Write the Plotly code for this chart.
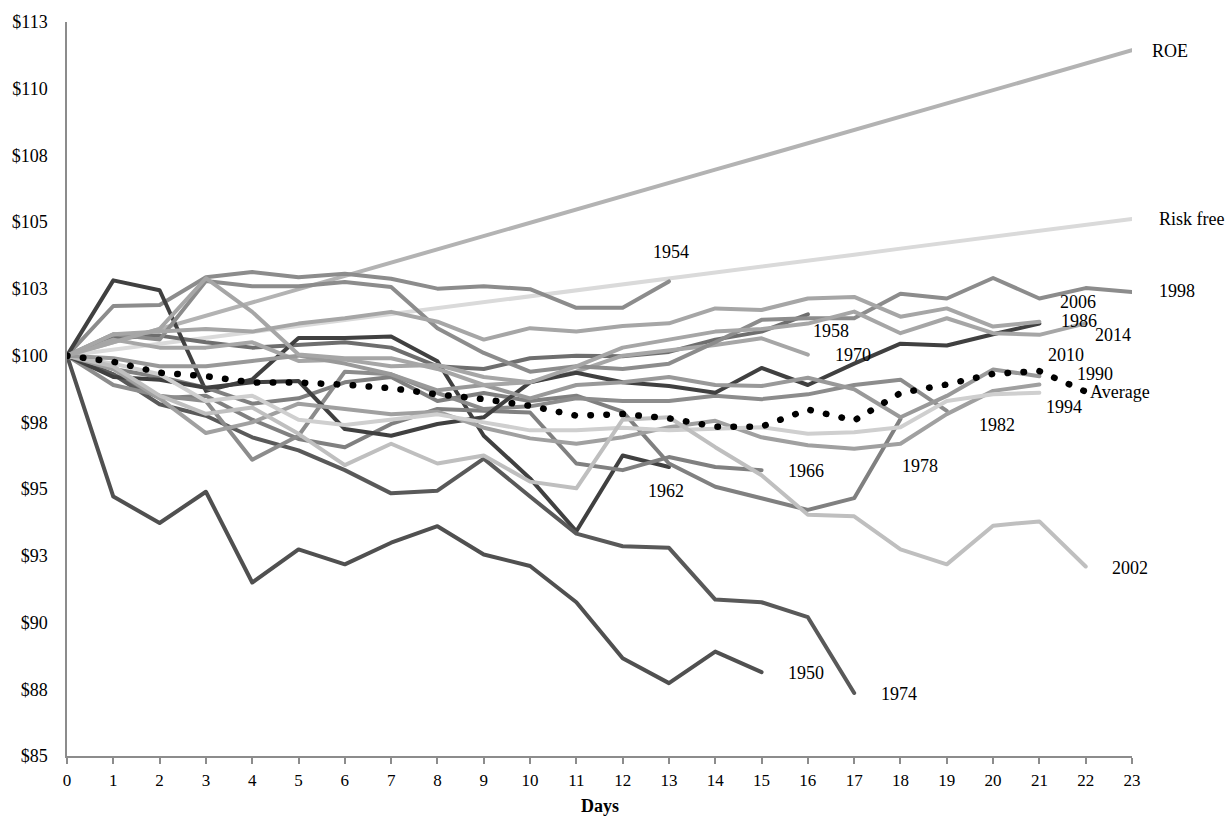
import plotly.graph_objects as go

days = list(range(24))

y1950 = [100, 94.72, 93.73, 94.9, 91.5, 92.74, 92.18, 92.99, 93.61, 92.55, 92.12, 90.76, 88.66, 87.73, 88.91, 88.14]
y1954 = [100, 101.86, 101.9, 102.94, 103.13, 102.94, 103.07, 102.88, 102.51, 102.6, 102.49, 101.79, 101.79, 102.78]
y1958 = [100, 100.65, 100.75, 100.5, 100.3, 100.4, 100.5, 100.3, 99.6, 99.5, 99.9, 100.0, 99.98, 100.14, 100.6, 100.9, 101.55]
y1962 = [100, 102.82, 102.45, 98.68, 99.11, 100.66, 100.66, 100.72, 99.79, 97.0, 95.4, 93.42, 96.26, 95.83]
y1966 = [100, 99.3, 98.4, 98.5, 97.6, 96.88, 96.57, 97.44, 98.0, 97.93, 97.87, 95.96, 95.71, 96.2, 95.83, 95.71]
y1970 = [100, 100.6, 100.3, 100.3, 100.5, 99.8, 99.85, 99.6, 99.65, 99.2, 99.0, 99.4, 100.0, 100.2, 100.4, 100.65, 100.04]
y1974 = [100, 99.3, 98.18, 97.75, 96.94, 96.45, 95.71, 94.84, 94.94, 96.14, 94.72, 93.33, 92.86, 92.8, 90.86, 90.76, 90.2, 87.36]
y1978 = [100, 99.5, 99.2, 98.8, 98.2, 98.4, 99.0, 99.2, 98.3, 98.6, 98.3, 98.5, 97.9, 95.96, 95.09, 94.66, 94.22, 94.66, 97.63]
y1982 = [100, 98.9, 98.5, 98.3, 96.1, 97.0, 99.4, 99.3, 98.6, 98.0, 98.1, 98.4, 98.3, 98.3, 98.5, 98.37, 98.55, 98.9, 99.1, 97.93]
y1986 = [100, 99.2, 99.1, 98.8, 99.0, 99.05, 97.25, 97.0, 97.44, 97.69, 99.0, 99.36, 99.0, 98.86, 98.61, 99.54, 98.9, 99.7, 100.45, 100.38, 100.8, 101.2]
y1990 = [100, 99.5, 98.4, 97.1, 97.5, 98.2, 98.0, 97.8, 97.9, 97.3, 96.9, 96.7, 96.94, 97.32, 97.56, 96.94, 96.64, 96.51, 96.7, 97.81, 98.68, 98.92]
y1994 = [100, 99.7, 99.3, 98.3, 98.5, 97.6, 97.4, 97.6, 97.8, 97.5, 97.2, 97.2, 97.3, 97.2, 97.25, 97.32, 97.07, 97.13, 97.32, 98.3, 98.55, 98.61]
y1998 = [100, 100.8, 100.6, 102.8, 102.6, 102.6, 102.76, 102.57, 101.03, 100.1, 99.4, 99.6, 99.5, 99.7, 100.5, 101.34, 101.4, 101.4, 102.32, 102.14, 102.91, 102.14, 102.53, 102.38]
y2002 = [100, 99.6, 98.5, 97.82, 98.06, 97.07, 95.9, 96.7, 95.96, 96.26, 95.28, 95.03, 97.6, 97.69, 96.57, 95.52, 94.04, 93.98, 92.74, 92.18, 93.63, 93.79, 92.1]
y2006 = [100, 100.8, 100.9, 101.0, 100.9, 101.2, 101.4, 101.64, 101.27, 100.6, 101.03, 100.9, 101.11, 101.21, 101.77, 101.71, 102.14, 102.2, 101.46, 101.77, 101.09, 101.27]
y2010 = [100, 99.9, 99.6, 99.6, 99.8, 100.0, 99.7, 99.3, 98.7, 98.9, 98.4, 98.9, 99.0, 99.2, 98.9, 98.86, 99.17, 98.74, 97.69, 98.49, 99.48, 99.23]
y2014 = [100, 100.5, 101.0, 102.9, 101.64, 100.04, 99.9, 99.9, 99.5, 98.9, 99.0, 99.6, 100.3, 100.6, 100.9, 101.0, 101.2, 101.65, 100.84, 101.4, 100.84, 100.78, 101.21]
roe = [100, 100.5, 100.99, 101.49, 101.99, 102.49, 102.99, 103.48, 103.98, 104.48, 104.98, 105.47,
       105.97, 106.47, 106.97, 107.46, 107.96, 108.46, 108.96, 109.45, 109.95, 110.45, 110.95, 111.44]
risk_free = [100, 100.22, 100.45, 100.67, 100.89, 101.11, 101.34, 101.56, 101.78, 102.0, 102.23, 102.45,
             102.67, 102.89, 103.12, 103.34, 103.56, 103.78, 104.01, 104.23, 104.45, 104.67, 104.9, 105.12]
average = [100, 99.77, 99.36, 99.23, 98.99, 98.99, 98.91, 98.78, 98.55, 98.37, 98.12, 97.75, 97.81, 97.65,
           97.34, 97.34, 97.98, 97.57, 98.6, 98.92, 99.32, 99.42, 98.65]

series_names = ["ROE", "Risk free", "1950", "1954", "1958", "1962", "1966", "1970", "1974", "1978", "1982",
                "1986", "1990", "1994", "1998", "2002", "2006", "2010", "2014"]
series_values = [roe, risk_free, y1950, y1954, y1958, y1962, y1966, y1970, y1974, y1978, y1982,
                 y1986, y1990, y1994, y1998, y2002, y2006, y2010, y2014]
series_colors = ["#b3b3b3", "#dadada", "#505050", "#8c8c8c", "#6e6e6e", "#404040", "#808080", "#a6a6a6",
                 "#595959", "#808080", "#8c8c8c", "#404040", "#a0a0a0", "#cfcfcf", "#8c8c8c", "#bfbfbf",
                 "#a6a6a6", "#999999", "#a6a6a6"]

# label anchor points in data units (day, value)
label_names = ["ROE", "Risk free", "1998", "2006", "1986", "2014", "1958", "1970", "2010", "1990", "Average",
               "1994", "1982", "1978", "1966", "1962", "1954", "2002", "1950", "1974"]
label_x = [23.39, 23.54, 23.54, 21.41, 21.43, 22.16, 16.07, 16.54, 21.15, 21.77, 22.05,
           21.09, 19.66, 17.98, 15.53, 12.51, 12.62, 22.53, 15.53, 17.53]
label_y = [111.42, 105.11, 102.41, 102.0, 101.3, 100.79, 100.92, 100.03, 100.03, 99.33, 98.62,
           98.06, 97.40, 95.87, 95.69, 94.91, 103.89, 92.05, 88.12, 87.34]

X_MIN, X_MAX = 0, 23
Y_MIN, Y_MAX = 85, 112.5
y_tickvals = [85, 87.5, 90, 92.5, 95, 97.5, 100, 102.5, 105, 107.5, 110, 112.5]
y_ticktext = ["$85", "$88", "$90", "$93", "$95", "$98", "$100", "$103", "$105", "$108", "$110", "$113"]

FONT = "Liberation Serif, Times New Roman, serif"

fig = go.Figure()
for name, vals, col in zip(series_names, series_values, series_colors):
    fig.add_trace(go.Scatter(x=days[:len(vals)], y=vals, mode="lines", name=name,
                             line=dict(color=col, width=4), hoverinfo="skip"))
fig.add_trace(go.Scatter(x=days[:len(average)], y=average, mode="lines", name="Average",
                         line=dict(color="#000000", width=6.5, dash="0.5px,15.5px"), hoverinfo="skip"))

# labels are placed in paper units derived from the axis ranges so that ones right of the
# last day are not hidden
for t, lx, ly in zip(label_names, label_x, label_y):
    fig.add_annotation(x=(lx - X_MIN) / (X_MAX - X_MIN), y=(ly - Y_MIN) / (Y_MAX - Y_MIN),
                       xref="paper", yref="paper", text=t, showarrow=False,
                       xanchor="left", yanchor="middle", font=dict(family=FONT, size=18, color="#000"))

fig.add_annotation(x=0.5, y=-0.0688, xref="paper", yref="paper", text="<b>Days</b>", showarrow=False,
                   xanchor="center", yanchor="middle", font=dict(family=FONT, size=18, color="#000"))

fig.update_layout(
    width=1230, height=818,
    margin=dict(l=64, r=98, t=15, b=62),
    paper_bgcolor="white", plot_bgcolor="white",
    showlegend=False,
    font=dict(family=FONT, size=18, color="#000"),
    xaxis=dict(range=[X_MIN, X_MAX], tickmode="array", tickvals=days, ticktext=[str(d) for d in days],
               showgrid=False, zeroline=False, showline=True, linecolor="#8c8c8c", linewidth=1.5,
               ticks="outside", ticklen=6, tickwidth=1.5, tickcolor="#8c8c8c",
               tickfont=dict(family=FONT, size=17, color="#000"), ticklabelstandoff=2),
    yaxis=dict(range=[Y_MIN, Y_MAX], tickmode="array", tickvals=y_tickvals, ticktext=y_ticktext,
               showgrid=False, zeroline=False, showline=True, linecolor="#8c8c8c", linewidth=1.5,
               ticks="", tickfont=dict(family=FONT, size=18, color="#000"), ticklabelstandoff=14),
)

post = """
var gd = document.getElementById('{plot_id}');
gd.querySelectorAll('.scatterlayer path.js-line').forEach(function(p){
  p.style.strokeLinecap = 'round';
  p.style.strokeLinejoin = 'round';
});
"""
fig.write_html("out.html", post_script=post)
